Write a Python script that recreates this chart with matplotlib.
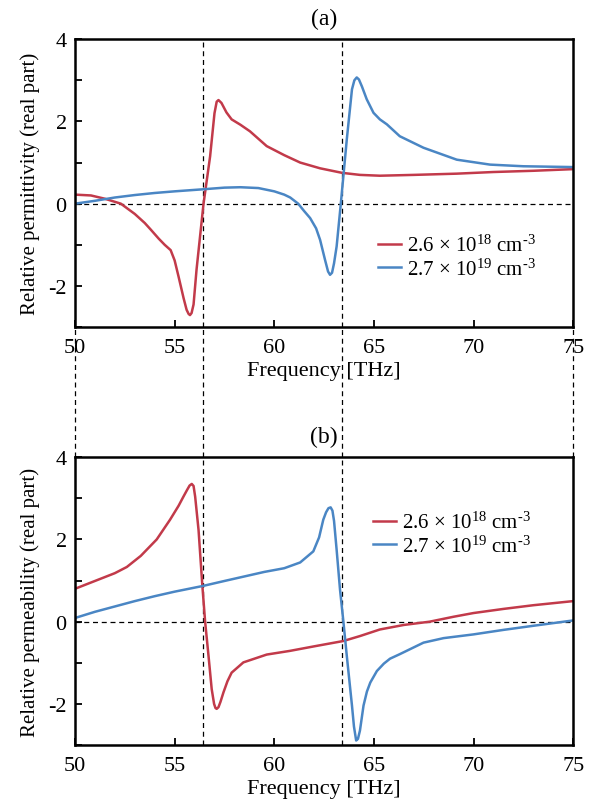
import matplotlib
matplotlib.use("Agg")
import matplotlib.pyplot as plt
from matplotlib.ticker import MultipleLocator

plt.rcParams['font.family'] = ['Liberation Serif', 'DejaVu Serif']
plt.rcParams['mathtext.fontset'] = 'custom'
plt.rcParams['mathtext.rm'] = 'Liberation Serif'
plt.rcParams['mathtext.it'] = 'Liberation Serif:italic'
plt.rcParams['axes.unicode_minus'] = False

# (a) relative permittivity, real part
eps_red_f = [50.0, 50.8, 51.5, 52.3, 53.0, 53.5, 53.8, 54.2, 54.5, 54.8, 55.0, 55.2, 55.45,
             55.6, 55.7, 55.77, 55.85, 55.95, 56.1, 56.45, 56.78, 57.0, 57.11, 57.2, 57.35,
             57.6, 57.86, 58.3, 58.78, 59.62, 60.5, 61.3, 62.3, 63.4, 64.3, 65.3, 67.0,
             69.16, 71.0, 73.0, 75.0]
eps_red = [0.22, 0.20, 0.12, 0.0, -0.25, -0.47, -0.63, -0.85, -1.0, -1.13, -1.38, -1.78, -2.3,
           -2.58, -2.68, -2.71, -2.66, -2.45, -1.6, 0.0, 1.15, 2.2, 2.48, 2.52, 2.45,
           2.22, 2.05, 1.92, 1.76, 1.40, 1.18, 1.0, 0.86, 0.75, 0.70, 0.68, 0.70,
           0.73, 0.77, 0.80, 0.84]

eps_blue_f = [50.0, 51.0, 52.0, 53.0, 54.0, 55.0, 56.43, 57.5, 58.3, 59.2, 60.0, 60.5, 60.8,
              61.2, 61.5, 61.8, 62.1, 62.3, 62.55, 62.7, 62.8, 62.9, 63.0, 63.13, 63.34,
              63.64, 63.9, 64.02, 64.14, 64.25, 64.4, 64.64, 64.98, 65.3, 65.65, 66.3,
              67.49, 69.16, 70.83, 72.5, 75.0]
eps_blue = [0.0, 0.07, 0.15, 0.21, 0.26, 0.30, 0.35, 0.39, 0.40, 0.38, 0.30, 0.22, 0.15,
            0.0, -0.18, -0.35, -0.6, -0.88, -1.37, -1.65, -1.73, -1.68, -1.45, -1.04, 0.0,
            1.56, 2.78, 3.0, 3.07, 3.02, 2.85, 2.54, 2.21, 2.05, 1.93, 1.64,
            1.36, 1.07, 0.95, 0.91, 0.89]

# (b) relative permeability, real part
mu_red_f = [50.0, 51.0, 52.0, 52.6, 53.3, 54.1, 54.77, 55.2, 55.44, 55.62, 55.75, 55.86, 55.95,
            56.03, 56.2, 56.39, 56.53, 56.7, 56.86, 56.98, 57.05, 57.11, 57.2, 57.3, 57.45,
            57.65, 57.86, 58.45, 59.62, 60.79, 62.0, 63.47, 64.3, 65.3, 66.5, 67.8, 69.0,
            70.0, 71.5, 73.0, 75.0]
mu_red = [0.80, 0.99, 1.18, 1.33, 1.60, 2.00, 2.48, 2.82, 3.04, 3.2, 3.31, 3.35, 3.3,
          3.04, 2.23, 0.88, 0.0, -0.83, -1.64, -2.0, -2.1, -2.12, -2.08, -1.95, -1.72,
          -1.45, -1.24, -0.99, -0.80, -0.71, -0.60, -0.47, -0.35, -0.19, -0.08, 0.0, 0.12,
          0.21, 0.31, 0.40, 0.50]

mu_blue_f = [50.0, 51.0, 52.0, 53.0, 54.0, 55.0, 56.43, 57.5, 58.5, 59.5, 60.5, 61.3, 61.96,
             62.25, 62.46, 62.6, 62.72, 62.83, 62.92, 63.0, 63.13, 63.3, 63.47, 63.64, 63.9,
             64.0, 64.11, 64.2, 64.3, 64.48, 64.65, 64.82, 65.15, 65.5, 65.81, 66.3, 67.49,
             68.5, 69.99, 71.5, 73.0, 75.0]
mu_blue = [0.09, 0.24, 0.37, 0.50, 0.62, 0.73, 0.87, 0.99, 1.10, 1.21, 1.30, 1.44, 1.71,
           2.05, 2.48, 2.66, 2.76, 2.78, 2.7, 2.45, 1.75, 0.78, 0.0, -0.83, -2.04,
           -2.55, -2.89, -2.85, -2.65, -2.04, -1.7, -1.48, -1.2, -1.02, -0.9, -0.79, -0.51,
           -0.40, -0.31, -0.2, -0.1, 0.03]

labels = [r'2.6 $\times$ 10$^{18}$ cm$^{\text{-}3}$', r'2.7 $\times$ 10$^{19}$ cm$^{\text{-}3}$']
marks = [56.43, 63.4]   # dashed guide frequencies
red = '#c23a4a'
blue = '#4a86c4'

fig = plt.figure(figsize=(5.93, 8.04), dpi=100)
left, width, height = 0.1265, 0.840, 0.358
bot_a, bot_b = 0.592, 0.0721
ax_a = fig.add_axes([left, bot_a, width, height])
ax_b = fig.add_axes([left, bot_b, width, height])

dash = (0, (4, 3))
panels = [
    (ax_a, eps_red_f, eps_red, eps_blue_f, eps_blue, 'Relative permittivity (real part)', '(a)', (0.608, 0.32)),
    (ax_b, mu_red_f, mu_red, mu_blue_f, mu_blue, 'Relative permeability (real part)', '(b)', (0.598, 0.81)),
]
for ax, rf, ry, bf, by, ylab, tag, lpos in panels:
    ax.plot(rf, ry, color=red, lw=1.8, label=labels[0])
    ax.plot(bf, by, color=blue, lw=1.8, label=labels[1])
    ax.axhline(0, color='black', lw=0.9, ls=dash, zorder=1)
    for m in marks:
        ax.axvline(m, color='black', lw=0.9, ls=dash, zorder=1)
    ax.set_xlim(50, 75)
    ax.set_ylim(-3, 4)
    ax.set_xticks([50, 55, 60, 65, 70, 75])
    ax.set_yticks([-2, 0, 2, 4])
    ax.yaxis.set_minor_locator(MultipleLocator(1))
    ax.tick_params(direction='in', labelsize=16, length=5, width=1.3)
    ax.tick_params(axis='x', pad=8)
    ax.tick_params(axis='y', pad=6)
    ax.tick_params(which='minor', direction='in', length=5, width=1.3)
    for s in ax.spines.values():
        s.set_linewidth(1.8)
    ax.set_xlabel('Frequency [THz]', fontsize=16, labelpad=3)
    ax.set_ylabel(ylab, fontsize=15, labelpad=6)
    ax.set_title(tag, fontsize=17, pad=11)
    ax.legend(loc='upper left', bbox_to_anchor=lpos, frameon=False, fontsize=15,
              handlelength=1.1, handletextpad=0.3, labelspacing=0.1,
              borderaxespad=0, borderpad=0)

# guide lines running through the gap between the panels
ov = fig.add_axes([left, bot_b, width, bot_a + height - bot_b])
ov.set_xlim(50, 75)
ov.set_ylim(0, 1)
ov.axis('off')
gap_lo = height / (bot_a + height - bot_b)
gap_hi = (bot_a - bot_b) / (bot_a + height - bot_b)
ov.vlines(marks + [50, 75], gap_lo, gap_hi, color='black', lw=0.9, ls=dash, clip_on=False)

fig.savefig('out.png', dpi=100)
